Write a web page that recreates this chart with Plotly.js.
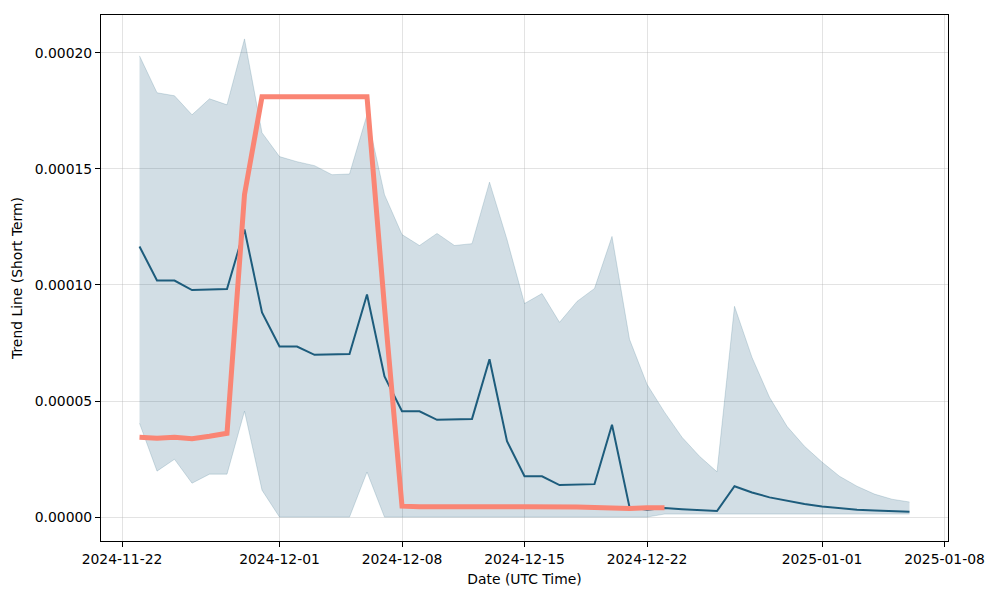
<!DOCTYPE html>
<html>
<head>
<meta charset="utf-8">
<script src="https://cdn.plot.ly/plotly-3.0.1.min.js"></script>
<style>html,body{margin:0;padding:0;background:#fff;}#chart{width:1000px;height:600px;}</style>
</head>
<body>
<div id="chart"></div>
<script>
const dates = [
  "2024-11-23","2024-11-24","2024-11-25","2024-11-26","2024-11-27","2024-11-28","2024-11-29","2024-11-30",
  "2024-12-01","2024-12-02","2024-12-03","2024-12-04","2024-12-05","2024-12-06","2024-12-07","2024-12-08",
  "2024-12-09","2024-12-10","2024-12-11","2024-12-12","2024-12-13","2024-12-14","2024-12-15","2024-12-16",
  "2024-12-17","2024-12-18","2024-12-19","2024-12-20","2024-12-21","2024-12-22","2024-12-23","2024-12-24",
  "2024-12-25","2024-12-26","2024-12-27","2024-12-28","2024-12-29","2024-12-30","2024-12-31","2025-01-01",
  "2025-01-02","2025-01-03","2025-01-04","2025-01-05","2025-01-06"
];
const trend = [
  0.0001166,0.0001019,0.0001019,0.0000978,0.0000980,0.0000983,0.0001239,0.0000882,
  0.0000735,0.0000735,0.0000699,0.0000701,0.0000703,0.0000959,0.0000606,0.0000456,
  0.0000456,0.0000419,0.0000421,0.0000423,0.0000680,0.0000327,0.0000176,0.0000176,
  0.0000138,0.0000140,0.0000142,0.0000398,0.0000043,0.0000032,0.0000039,0.0000034,
  0.0000030,0.0000026,0.0000133,0.0000106,0.0000085,0.0000069,0.0000056,0.0000046,
  0.0000038,0.0000032,0.0000028,0.0000026,0.0000023
];
const upper = [
  0.0001987,0.0001828,0.0001815,0.0001733,0.0001802,0.0001776,0.0002060,0.0001656,
  0.0001553,0.0001531,0.0001514,0.0001475,0.0001478,0.0001733,0.0001389,0.0001217,
  0.0001170,0.0001222,0.0001170,0.0001178,0.0001443,0.0001196,0.0000920,0.0000963,
  0.0000839,0.0000929,0.0000985,0.0001209,0.0000766,0.0000572,0.0000452,0.0000344,
  0.0000262,0.0000195,0.0000908,0.0000688,0.0000516,0.0000391,0.0000305,0.0000237,
  0.0000176,0.0000133,0.0000099,0.0000077,0.0000065
];
const lower = [
  0.0000404,0.0000198,0.0000249,0.0000146,0.0000185,0.0000185,0.0000456,0.0000116,
  0,0,0,0,0,0.0000194,0,0,
  0,0,0,0,0,0,0,0,
  0,0,0,0,0,0,0.0000013,0.0000013,
  0.0000013,0.0000013,0.0000013,0.0000013,0.0000013,0.0000013,0.0000013,0.0000013,
  0.0000013,0.0000013,0.0000013,0.0000013,0.0000013
];
const orangeDates = dates.slice(0, 31);
const orange = [
  0.0000344,0.0000340,0.0000344,0.0000338,0.0000348,0.0000361,0.0001389,0.0001811,
  0.0001811,0.0001811,0.0001811,0.0001811,0.0001811,0.0001811,0.0000903,0.0000047,
  0.0000045,0.0000044,0.0000044,0.0000045,0.0000046,0.0000045,0.0000045,0.0000046,
  0.0000045,0.0000043,0.0000041,0.0000038,0.0000037,0.0000040,0.0000040
];
const xTickVals = ["2024-11-22","2024-12-01","2024-12-08","2024-12-15","2024-12-22","2025-01-01","2025-01-08"];
const yTickVals = [0, 0.00005, 0.0001, 0.00015, 0.0002];

const blue = "#1d5c7c";
const bandFill = "rgba(29,92,124,0.2)";
const font = "DejaVu Sans, sans-serif";
const fs = 13.9;

const traces = [
  {x: dates, y: lower, type: "scatter", mode: "lines", line: {color: "rgba(29,92,124,0.18)", width: 1}, showlegend: false, hoverinfo: "skip"},
  {x: dates, y: upper, type: "scatter", mode: "lines", fill: "tonexty", fillcolor: bandFill, line: {color: "rgba(29,92,124,0.18)", width: 1}, showlegend: false, hoverinfo: "skip"},
  {x: dates, y: trend, type: "scatter", mode: "lines", line: {color: blue, width: 2}, showlegend: false},
  {x: orangeDates, y: orange, type: "scatter", mode: "lines", line: {color: "#fa8574", width: 5}, showlegend: false}
];

const layout = {
  width: 1000, height: 600,
  margin: {l: 101, r: 52, t: 15, b: 59},
  paper_bgcolor: "#fff", plot_bgcolor: "#fff",
  font: {family: font, size: fs, color: "#000"},
  showlegend: false,
  hovermode: false,
  xaxis: {
    type: "date",
    range: ["2024-11-20 19:12", "2025-01-08 04:48"],
    tickvals: xTickVals,
    ticktext: xTickVals,
    ticks: "outside", ticklen: 5, tickwidth: 1, tickcolor: "#000",
    showline: true, mirror: true, linecolor: "#000", linewidth: 1,
    showgrid: true, gridcolor: "rgba(176,176,176,0.35)", gridwidth: 1,
    zeroline: false,
    tickfont: {family: font, size: fs, color: "#000"},
    title: {text: "Date (UTC Time)", font: {family: font, size: fs, color: "#000"}, standoff: 8},
    automargin: false
  },
  yaxis: {
    range: [-0.0000103, 0.0002163],
    tickvals: yTickVals,
    tickformat: ".5f",
    ticks: "outside", ticklen: 5, tickwidth: 1, tickcolor: "#000",
    showline: true, mirror: true, linecolor: "#000", linewidth: 1,
    showgrid: true, gridcolor: "rgba(176,176,176,0.35)", gridwidth: 1,
    zeroline: false,
    tickfont: {family: font, size: fs, color: "#000"},
    title: {text: "Trend Line (Short Term)", font: {family: font, size: fs, color: "#000"}, standoff: 8},
    automargin: false
  }
};

Plotly.newPlot("chart", traces, layout, {displayModeBar: false, staticPlot: true});
</script>
</body>
</html>
